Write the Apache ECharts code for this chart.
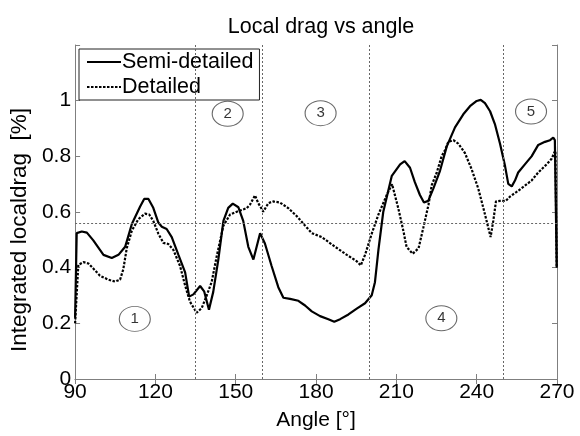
<!DOCTYPE html>
<html>
<head>
<meta charset="utf-8">
<script src="https://cdn.jsdelivr.net/npm/echarts@6/dist/echarts.min.js"></script>
<style>html,body{margin:0;padding:0;background:#fff}#c{width:580px;height:436px}</style>
</head>
<body>
<div id="c"></div>
<script>
var title = "Local drag vs angle";
var xName = "Angle [°]";
var yName = "Integrated localdrag  [%]";
var seriesNames = ["Semi-detailed", "Detailed"];

var semiX = [90, 90.6, 92.5, 94.4, 96.8, 100.6, 103.7, 106.2, 108.7, 111.2, 114.3, 115.8, 117.4, 119.2, 121.1, 122.4, 124.2, 126.1, 128.6, 131.1, 132.6, 134.2, 136.7, 138.2, 140.0, 141.6, 143.5, 145.4, 147.2, 148.9, 151.0, 152.8, 154.7, 156.6, 157.2, 159.1, 160.9, 163.4, 165.9, 167.8, 170.3, 173.4, 175.9, 178.4, 181.5, 184.6, 186.8, 189.0, 192.1, 195.2, 198.3, 200.8, 202.0, 203.3, 205.1, 208.3, 211.4, 213.1, 215.1, 216.9, 218.8, 220.3, 221.9, 223.8, 226.3, 228.8, 231.9, 235.0, 237.5, 240.0, 241.5, 243.1, 245.0, 246.8, 248.7, 250.6, 251.8, 253.1, 254.3, 255.5, 258.0, 260.5, 263.0, 265.5, 267.4, 268.6, 269.2, 269.9];
var semiY = [0.22, 0.524, 0.53, 0.526, 0.498, 0.446, 0.435, 0.446, 0.475, 0.557, 0.62, 0.647, 0.647, 0.615, 0.562, 0.547, 0.539, 0.51, 0.446, 0.383, 0.296, 0.304, 0.334, 0.315, 0.249, 0.313, 0.429, 0.568, 0.615, 0.63, 0.617, 0.568, 0.475, 0.429, 0.423, 0.524, 0.487, 0.406, 0.33, 0.292, 0.288, 0.281, 0.264, 0.243, 0.226, 0.215, 0.206, 0.215, 0.232, 0.253, 0.272, 0.301, 0.348, 0.464, 0.6, 0.73, 0.771, 0.783, 0.759, 0.707, 0.661, 0.634, 0.64, 0.684, 0.748, 0.835, 0.904, 0.951, 0.98, 0.999, 1.003, 0.991, 0.962, 0.916, 0.846, 0.765, 0.701, 0.692, 0.713, 0.742, 0.771, 0.8, 0.841, 0.852, 0.858, 0.867, 0.858, 0.40];

var detX = [90, 91.2, 93.1, 95.0, 96.8, 99.3, 102.4, 104.9, 106.8, 108.0, 109.3, 111.2, 113.6, 116.1, 117.7, 119.2, 121.1, 123.0, 124.8, 126.7, 129.2, 131.1, 132.9, 135.4, 137.3, 139.2, 141.0, 142.9, 145.4, 147.9, 150.4, 152.8, 154.1, 155.3, 157.2, 158.4, 160.3, 162.2, 164.0, 166.5, 169.6, 172.8, 175.9, 178.4, 182.1, 187.1, 191.5, 195.2, 196.7, 198.3, 200.8, 203.3, 206.4, 208.4, 210.7, 212.6, 213.8, 216.1, 218.3, 220.1, 222.0, 223.2, 225.1, 226.9, 228.2, 229.4, 231.3, 233.1, 235.6, 238.1, 240.6, 242.5, 244.3, 245.2, 246.2, 247.2, 248.7, 250.9, 252.4, 254.9, 257.4, 260.5, 263.0, 266.1, 268.0, 268.9, 269.4, 269.9];
var detY = [0.2, 0.41, 0.42, 0.415, 0.397, 0.371, 0.357, 0.35, 0.357, 0.394, 0.47, 0.533, 0.574, 0.594, 0.591, 0.568, 0.522, 0.489, 0.485, 0.464, 0.406, 0.336, 0.278, 0.238, 0.255, 0.301, 0.348, 0.441, 0.551, 0.591, 0.601, 0.609, 0.614, 0.626, 0.66, 0.632, 0.601, 0.632, 0.638, 0.634, 0.614, 0.585, 0.551, 0.524, 0.51, 0.475, 0.446, 0.423, 0.408, 0.446, 0.522, 0.591, 0.661, 0.70, 0.614, 0.533, 0.475, 0.45, 0.47, 0.545, 0.626, 0.696, 0.742, 0.8, 0.823, 0.852, 0.858, 0.846, 0.812, 0.754, 0.684, 0.614, 0.545, 0.51, 0.568, 0.638, 0.64, 0.64, 0.655, 0.672, 0.69, 0.713, 0.742, 0.771, 0.791, 0.812, 0.82, 0.40];

var sectorLines = [135, 160, 200, 250];
var refLevel = 0.555;
var zoneX = [112.3, 147, 181.7, 226.8, 260.3];
var zoneY = [0.216, 0.953, 0.955, 0.218, 0.961];
var zoneLabels = ["1", "2", "3", "4", "5"];

function zip(a, b) { return a.map(function (v, i) { return [v, b[i]]; }); }

var FONT = "Liberation Sans, Arial, sans-serif";
var AX = "#7f7f7f";

var chart = echarts.init(document.getElementById('c'), null, { renderer: 'canvas' });
chart.setOption({
  animation: false,
  backgroundColor: '#fff',
  title: {
    text: title, left: 316, top: 11, textAlign: 'center',
    textStyle: { fontFamily: FONT, fontSize: 21.5, fontWeight: 'normal', color: '#000' }
  },
  legend: {
    left: 79, top: 49, orient: 'vertical',
    backgroundColor: '#fff', borderColor: '#222', borderWidth: 1,
    padding: [2, 6, 2, 7], itemGap: 3, itemWidth: 34, itemHeight: 21,
    itemStyle: { opacity: 0 },
    textStyle: { fontFamily: FONT, fontSize: 21.5, color: '#000', padding: [0, 0, 0, -4] },
    data: seriesNames
  },
  grid: { left: 75, right: 23, top: 45, bottom: 46 },
  xAxis: [{
    type: 'value', min: 90, max: 270, interval: 30,
    name: xName, nameLocation: 'middle', nameGap: 31,
    nameTextStyle: { fontFamily: FONT, fontSize: 21, color: '#000' },
    axisLine: { lineStyle: { color: AX, width: 1 } },
    axisTick: { inside: true, length: 5, lineStyle: { color: AX } },
    axisLabel: { fontFamily: FONT, fontSize: 21, color: '#000', margin: 3 },
    splitLine: { show: false }
  }, {
    type: 'value', min: 90, max: 270, interval: 30, position: 'top',
    axisLine: { show: true, lineStyle: { color: AX, width: 1 } },
    axisTick: { show: true, inside: true, length: 5, lineStyle: { color: AX } },
    axisLabel: { show: false }, splitLine: { show: false }
  }],
  yAxis: [{
    type: 'value', min: 0, max: 1.2, interval: 0.2,
    name: yName, nameLocation: 'middle', nameGap: 41,
    nameTextStyle: { fontFamily: FONT, fontSize: 22.5, color: '#000', padding: [0, 36, 0, 0] },
    axisLine: { show: true, lineStyle: { color: AX, width: 1 } },
    axisTick: { show: true, inside: true, length: 5, lineStyle: { color: AX } },
    axisLabel: {
      fontFamily: FONT, fontSize: 21, color: '#000', margin: 4,
      formatter: function (v) { return v > 1.1 ? '' : String(Math.round(v * 10) / 10); }
    },
    splitLine: { show: false }
  }, {
    type: 'value', min: 0, max: 1.2, interval: 0.2, position: 'right',
    axisLine: { show: true, lineStyle: { color: AX, width: 1 } },
    axisTick: { show: true, inside: true, length: 5, lineStyle: { color: AX } },
    axisLabel: { show: false }, splitLine: { show: false }
  }],
  series: [{
    name: 'refs', type: 'line', data: [], silent: true,
    markLine: {
      silent: true, symbol: 'none', label: { show: false },
      lineStyle: { color: '#666', width: 1, type: [2, 2] },
      data: sectorLines.map(function (v) { return { xAxis: v }; }).concat([{ yAxis: refLevel }])
    }
  }, {
    name: 'zones', type: 'scatter', silent: true,
    data: zip(zoneX, zoneY).map(function (p, i) { return { value: p, label: { formatter: zoneLabels[i] } }; }),
    symbol: 'circle', symbolSize: [31, 25],
    itemStyle: { color: 'rgba(255,255,255,0)', borderColor: '#444', borderWidth: 1 },
    label: { show: true, position: 'inside', fontFamily: FONT, fontSize: 15, color: '#000' }
  }, {
    name: seriesNames[0], type: 'line', data: zip(semiX, semiY),
    symbol: 'none', smooth: false,
    lineStyle: { color: '#000', width: 2.2 },
    itemStyle: { color: '#000' }
  }, {
    name: seriesNames[1], type: 'line', data: zip(detX, detY),
    symbol: 'none', smooth: false,
    lineStyle: { color: '#000', width: 2.2, type: [2.5, 1.5] },
    itemStyle: { color: '#000' }
  }]
});
</script>
</body>
</html>
